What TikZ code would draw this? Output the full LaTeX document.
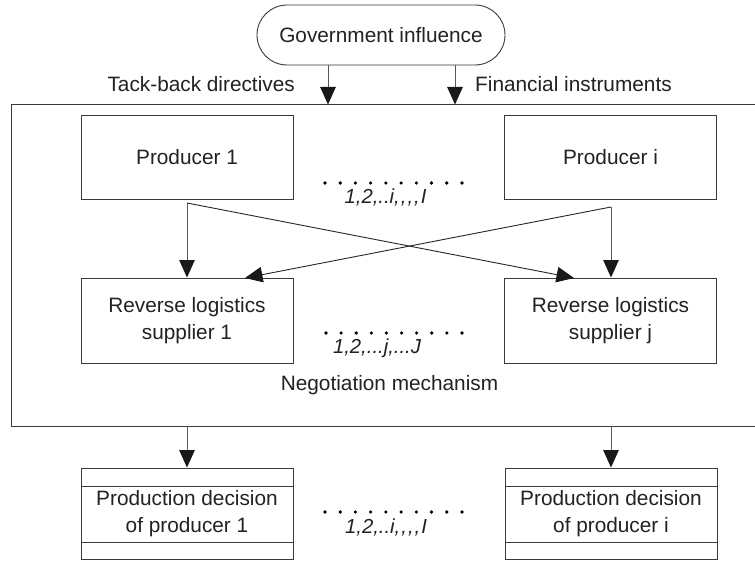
\documentclass[tikz,border=0pt]{standalone}
\usepackage{fontspec}
\setmainfont{Liberation Sans}
\usetikzlibrary{arrows.meta,shapes.misc}
\definecolor{ink}{HTML}{222222}
\definecolor{boxline}{HTML}{3A3A3A}
\definecolor{arrline}{HTML}{5A5A5A}
\tikzset{
  txt/.style={font=\fontsize{20.8}{24}\selectfont, text=ink, inner sep=0pt},
  itxt/.style={font=\fontsize{20.3}{24}\selectfont\itshape, text=ink, inner sep=0pt},
  boxnode/.style={draw=boxline, line width=0.9pt, minimum width=212pt, minimum height=84pt, align=center, font=\fontsize{20.8}{27}\selectfont, text=ink, inner sep=0pt},
  decbox/.style={draw=boxline, line width=0.9pt, minimum width=212pt, minimum height=91pt, align=center, font=\fontsize{20.8}{27}\selectfont, text=ink, inner sep=0pt},
  govbox/.style={draw=boxline, line width=0.9pt, rounded rectangle, minimum width=248pt, minimum height=60pt, font=\fontsize{20.8}{24}\selectfont, text=ink, inner sep=0pt},
  tip/.style={-{Triangle[length=17.5pt,width=15.5pt,color=black!90,fill=black!90]}},
  arr/.style={draw=arrline, line width=1pt, tip},
  xline/.style={draw=black!85, line width=0.9pt},
  dotrow/.style={fill=black, radius=1.8pt}
}
\begin{document}
\begin{tikzpicture}[x=1pt,y=-1pt]
\useasboundingbox[fill=white] (0,0) rectangle (755,561);
% government
\node[govbox] (gov) at (381,35) {Government influence};
% outer frame (right edge lies beyond the picture)
\coordinate (ftr) at (760,104.5);
\coordinate (ftl) at (11,104.5);
\coordinate (fbl) at (11,426);
\coordinate (fbr) at (760,426);
\draw[xline, draw=boxline] (ftr) -- (ftl) -- (fbl) -- (fbr);
% labels
\node[txt, anchor=east] (tb) at (295,84) {Tack-back directives};
\node[txt, anchor=west] (fi) at (475,84) {Financial instruments};
% arrows from government
\coordinate (g1) at (328,65);
\coordinate (g2) at (455,65);
\coordinate (t1) at (328,104.5);
\coordinate (t2) at (455,104.5);
\draw[arr] (g1) -- (t1);
\draw[arr] (g2) -- (t2);
% producers
\node[boxnode] (p1) at (187,157) {Producer 1};
\node[boxnode] (pi) at (610.5,157) {Producer i};
% suppliers
\node[boxnode, minimum height=85pt] (s1) at (187,320.5) {Reverse logistics\\supplier 1};
\node[boxnode, minimum height=85pt] (sj) at (610.5,320.5) {Reverse logistics\\supplier j};
% connectors
\coordinate (p1b) at (187,203);
\coordinate (pib) at (611,207);
\coordinate (s1a) at (245,278);
\coordinate (sja) at (574,278);
\draw[arr] (p1b) -- (s1.north -| p1b);
\draw[arr] (pib) -- (sj.north -| pib);
\draw[xline, tip] (p1b) -- (sja);
\draw[xline, tip] (pib) -- (s1a);
% dots rows
\foreach \i in {0,...,9} {
  \fill[dotrow] (325+15.22*\i,183) circle;
  \fill[dotrow] (326+15.11*\i,333) circle;
  \fill[dotrow] (325+15.22*\i,512) circle;
}
\node[itxt] (n1) at (385.5,197) {1,2,..i,\kern1pt,\kern1pt,\kern1pt,\kern1pt I};
\node[itxt] (n2) at (377,348) {1,2,...j,...J};
\node[txt] (neg) at (389.5,385) {Negotiation mechanism};
% decisions
\node[decbox] (d1) at (187,513.5) {Production decision\\of producer 1};
\node[decbox] (di) at (611,513.5) {Production decision\\of producer i};
\draw[draw=boxline, line width=0.9pt] ([yshift=-19pt]d1.north west) -- ([yshift=-19pt]d1.north east);
\draw[draw=boxline, line width=0.9pt] ([yshift=17pt]d1.south west) -- ([yshift=17pt]d1.south east);
\draw[draw=boxline, line width=0.9pt] ([yshift=-19pt]di.north west) -- ([yshift=-19pt]di.north east);
\draw[draw=boxline, line width=0.9pt] ([yshift=17pt]di.south west) -- ([yshift=17pt]di.south east);
\node[itxt] (n3) at (386,527) {1,2,..i,\kern1pt,\kern1pt,\kern1pt,\kern1pt I};
\coordinate (fb1) at (187,426);
\coordinate (fb2) at (611,426);
\draw[arr] (fb1) -- (d1.north);
\draw[arr] (fb2) -- (di.north);
\end{tikzpicture}
\end{document}
